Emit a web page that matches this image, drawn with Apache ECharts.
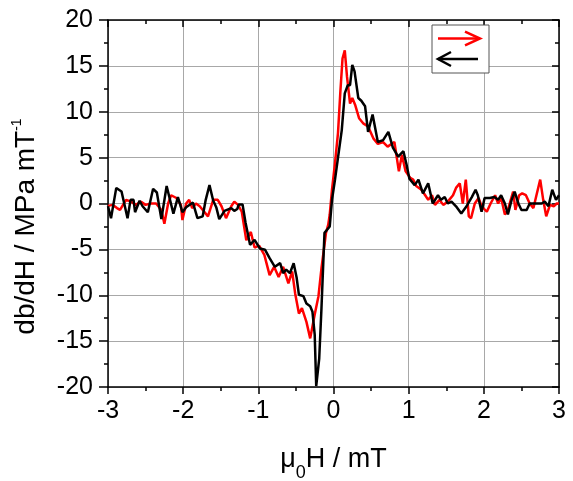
<!DOCTYPE html>
<html>
<head>
<meta charset="utf-8">
<script src="https://cdn.jsdelivr.net/npm/echarts@6/dist/echarts.min.js"></script>
<style>html,body{margin:0;padding:0;background:#fff;}#c{width:573px;height:481px;}</style>
</head>
<body>
<div id="c"></div>
<script>
// Field values (mT)
const redX = [-3.00,-2.94,-2.88,-2.84,-2.76,-2.69,-2.63,-2.56,-2.50,-2.43,-2.36,-2.29,-2.25,-2.20,-2.16,-2.09,-2.03,-2.01,-1.96,-1.92,-1.88,-1.83,-1.78,-1.72,-1.67,-1.60,-1.54,-1.49,-1.43,-1.36,-1.32,-1.27,-1.22,-1.16,-1.10,-1.05,-0.99,-0.92,-0.85,-0.79,-0.73,-0.67,-0.60,-0.55,-0.51,-0.46,-0.42,-0.36,-0.31,-0.29,-0.25,-0.20,-0.16,-0.12,-0.10,-0.07,-0.05,-0.02,0.02,0.06,0.09,0.12,0.15,0.18,0.22,0.25,0.29,0.34,0.40,0.46,0.53,0.59,0.66,0.72,0.81,0.87,0.91,0.96,1.02,1.06,1.10,1.17,1.22,1.26,1.31,1.35,1.41,1.46,1.52,1.59,1.63,1.68,1.72,1.76,1.80,1.83,1.88,1.93,1.97,2.04,2.09,2.15,2.19,2.23,2.28,2.32,2.39,2.42,2.47,2.51,2.56,2.61,2.66,2.70,2.75,2.79,2.83,2.88,2.93,2.97,3.00];
const redY = [-0.26,-0.15,-0.5,-0.7,0.4,0.2,-0.15,0.2,-0.15,0.0,0.0,-0.7,-2.2,0.0,0.9,0.6,-0.15,-1.8,0.0,0.4,-0.5,0.0,-0.3,-0.9,-1.4,0.4,0.4,-0.3,-1.6,-0.3,0.2,-0.15,-0.9,-4.0,-3.1,-4.8,-4.6,-5.6,-7.8,-6.9,-8.0,-6.9,-8.7,-7.4,-9.8,-12.0,-11.4,-12.9,-14.7,-14.7,-12.1,-10.1,-7.05,-4.5,-3.2,-2.3,-1.2,1.5,4.4,7.7,12.0,15.8,16.7,13.8,10.9,11.5,10.7,9.3,8.7,8.4,7.1,6.5,6.7,6.2,6.7,3.5,5.3,3.5,2.8,2.6,1.9,1.5,0.9,0.4,0.9,-0.15,0.4,-0.15,0.2,0.9,1.7,2.2,0.0,2.6,-1.4,-1.6,0.0,0.6,-0.3,-0.9,0.0,0.9,0.0,0.6,-1.2,-0.7,1.3,-0.7,0.9,1.1,0.9,0.0,-0.5,0.9,2.6,0.4,-1.4,-0.15,-0.3,0.0,0.0];
const blackX = [-3.00,-2.96,-2.89,-2.82,-2.74,-2.70,-2.66,-2.64,-2.58,-2.54,-2.47,-2.40,-2.35,-2.29,-2.22,-2.13,-2.07,-2.01,-1.96,-1.87,-1.81,-1.74,-1.70,-1.65,-1.60,-1.56,-1.52,-1.45,-1.36,-1.32,-1.28,-1.26,-1.21,-1.17,-1.11,-1.05,-0.98,-0.91,-0.85,-0.78,-0.71,-0.67,-0.63,-0.58,-0.53,-0.49,-0.46,-0.40,-0.36,-0.31,-0.28,-0.25,-0.23,-0.19,-0.16,-0.12,-0.10,-0.05,-0.02,0.02,0.06,0.11,0.15,0.19,0.22,0.25,0.28,0.33,0.37,0.42,0.46,0.52,0.59,0.66,0.73,0.79,0.86,0.93,0.97,1.01,1.08,1.13,1.19,1.26,1.32,1.39,1.43,1.48,1.52,1.57,1.63,1.70,1.77,1.84,1.89,1.92,1.97,2.01,2.08,2.14,2.19,2.23,2.28,2.32,2.37,2.41,2.46,2.50,2.57,2.61,2.70,2.77,2.81,2.86,2.91,2.96,3.00];
const blackY = [-0.3,-1.6,1.7,1.3,-1.6,0.4,0.4,-0.95,0.3,-0.3,-0.95,1.6,1.2,-1.7,1.9,-1.1,0.7,-0.95,-0.4,0.1,-1.6,-1.4,0.4,2.0,0.3,-0.4,-1.7,-0.8,-0.5,-0.8,-0.6,-0.1,-0.1,-2.1,-4.5,-3.97,-4.9,-5.05,-5.96,-6.9,-6.5,-7.6,-7.2,-7.6,-6.5,-8.1,-9.95,-10.1,-10.9,-11.2,-11.8,-14.3,-19.9,-16.9,-11.4,-3.2,-3.0,-2.5,0.4,2.6,5.0,8.0,12.0,12.9,12.9,15.1,14.4,11.5,11.2,10.6,7.8,9.7,6.7,6.9,7.8,6.1,5.1,5.7,4.3,2.7,2.0,2.6,1.1,2.2,0.0,0.9,0.4,0.7,0.0,0.2,-0.3,-1.1,-0.3,0.7,1.5,0.9,-0.9,0.6,0.6,0.7,0.4,0.9,0.0,-1.2,0.4,1.3,0.0,-0.7,-0.7,0.0,0.0,0.0,0.2,-0.3,1.5,0.4,0.9];
const xTicks = [-3,-2,-1,0,1,2,3];
const yTicks = [-20,-15,-10,-5,0,5,10,15,20];

const zip = (xs, ys) => xs.map((x, i) => [x, ys[i]]);
const FONT = 'Liberation Sans, Arial, sans-serif';

const chart = echarts.init(document.getElementById('c'), null, {renderer: 'canvas'});
const xBase = {
  type: 'value', min: xTicks[0], max: xTicks[xTicks.length - 1], interval: 1,
  axisLine: {onZero: false, lineStyle: {color: '#000', width: 1.5}},
  minorTick: {show: true, splitNumber: 2, length: 4, lineStyle: {color: '#000', width: 1.5}},
  axisTick: {length: 7, lineStyle: {color: '#000', width: 1.5}}
};
const yBase = {
  type: 'value', min: yTicks[0], max: yTicks[yTicks.length - 1], interval: 5,
  axisLine: {onZero: false, lineStyle: {color: '#000', width: 1.5}},
  minorTick: {show: true, splitNumber: 2, length: 4, lineStyle: {color: '#000', width: 1.5}},
  axisTick: {length: 7, lineStyle: {color: '#000', width: 1.5}}
};
chart.setOption({
  animation: false,
  backgroundColor: '#fff',
  grid: {left: 108, right: 14, top: 20, bottom: 94, containLabel: false, outerBoundsMode: 'none'},
  xAxis: [
    Object.assign({}, xBase, {
      position: 'bottom',
      axisTick: Object.assign({}, xBase.axisTick, {inside: false}),
      axisLabel: {fontSize: 25, fontFamily: FONT, color: '#000', margin: 12},
      splitLine: {show: true, lineStyle: {color: '#a8a8a8', width: 1}},
      name: '{n|μ}{s|0}{n|H / mT}',
      nameLocation: 'middle', nameGap: 50,
      nameTextStyle: {
        rich: {
          n: {fontSize: 27, fontFamily: FONT, color: '#000', lineHeight: 45, verticalAlign: 'middle'},
          s: {fontSize: 18, fontFamily: FONT, color: '#000', lineHeight: 18, padding: [27, 0, 0, 0], verticalAlign: 'bottom'}
        }
      }
    }),
    Object.assign({}, xBase, {
      position: 'top',
      axisTick: Object.assign({}, xBase.axisTick, {inside: true}),
      axisLabel: {show: false},
      splitLine: {show: false}
    })
  ],
  yAxis: [
    Object.assign({}, yBase, {
      position: 'left',
      axisTick: Object.assign({}, yBase.axisTick, {inside: false, length: 9}),
      axisLabel: {fontSize: 25, fontFamily: FONT, color: '#000', margin: 15},
      splitLine: {show: true, lineStyle: {color: '#a8a8a8', width: 1}},
      name: '{n|db/dH / MPa mT}{p|-1}',
      nameLocation: 'middle', nameGap: 66, nameRotate: 90,
      nameTextStyle: {
        padding: [0, 46, 0, 0],
        rich: {
          n: {fontSize: 28, fontFamily: FONT, color: '#000', lineHeight: 32, verticalAlign: 'middle'},
          p: {fontSize: 14, fontFamily: FONT, color: '#000', lineHeight: 14, verticalAlign: 'top'}
        }
      }
    }),
    Object.assign({}, yBase, {
      position: 'right',
      axisTick: Object.assign({}, yBase.axisTick, {inside: true}),
      axisLabel: {show: false},
      splitLine: {show: false}
    })
  ],
  series: [
    {type: 'line', name: 'up', data: zip(redX, redY), xAxisIndex: 0, yAxisIndex: 0,
     showSymbol: false, symbol: 'none', lineStyle: {color: '#ff0000', width: 2.5}, z: 3},
    {type: 'line', name: 'down', data: zip(blackX, blackY), xAxisIndex: 0, yAxisIndex: 0,
     showSymbol: false, symbol: 'none', lineStyle: {color: '#000000', width: 2.5}, z: 4}
  ],
  graphic: [
    {type: 'rect', shape: {x: 432, y: 25, width: 57, height: 48}, style: {fill: '#fff', stroke: '#555', lineWidth: 1}, z: 10},
    {type: 'line', shape: {x1: 438, y1: 38.5, x2: 480, y2: 38.5}, style: {stroke: '#ff0000', lineWidth: 2.5}, z: 11},
    {type: 'polyline', shape: {points: [[465, 31.7], [480, 38.5], [465, 45.3]]}, style: {stroke: '#ff0000', lineWidth: 2.5, fill: null}, z: 11},
    {type: 'line', shape: {x1: 438, y1: 59, x2: 478, y2: 59}, style: {stroke: '#000', lineWidth: 2.5}, z: 11},
    {type: 'polyline', shape: {points: [[451, 52], [438, 59], [451, 66]]}, style: {stroke: '#000', lineWidth: 2.5, fill: null}, z: 11}
  ]
});
</script>
</body>
</html>
